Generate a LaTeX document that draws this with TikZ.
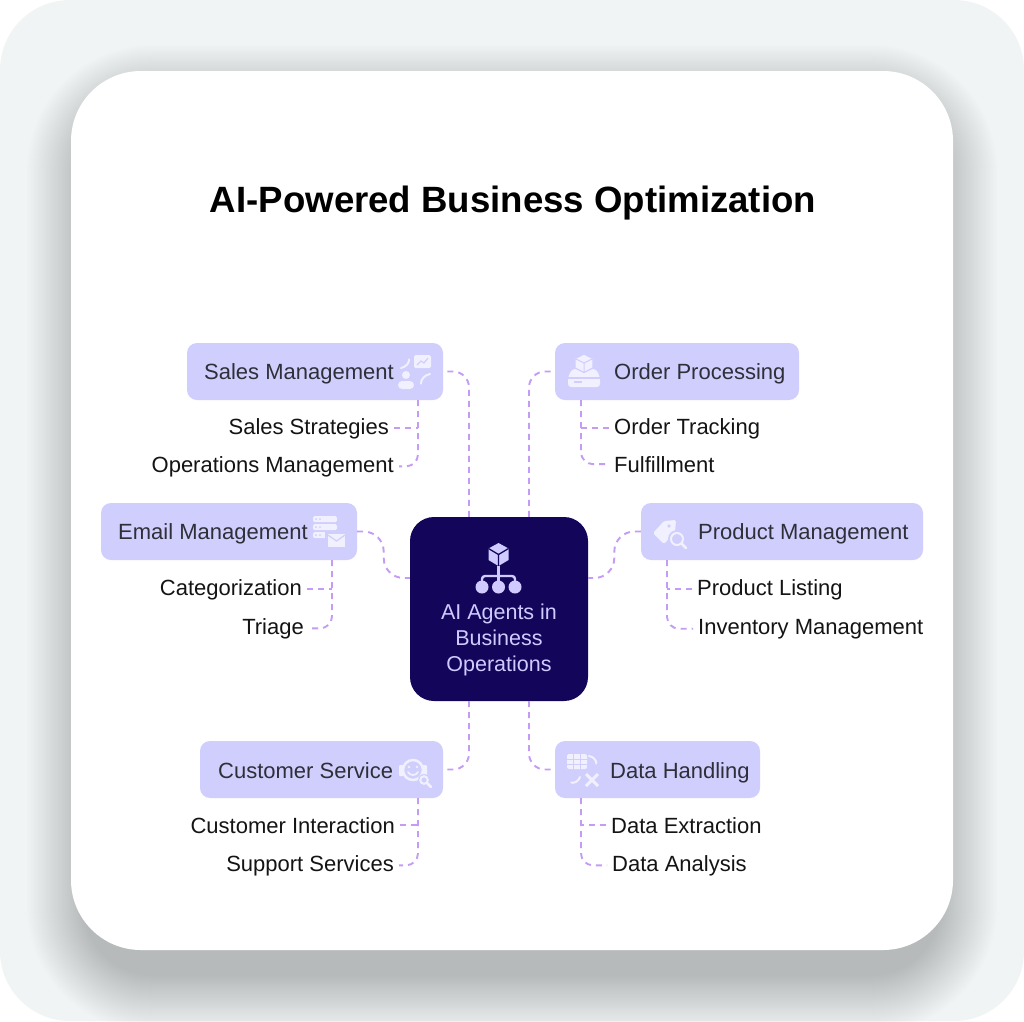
\documentclass[tikz,border=0pt]{standalone}
\usepackage{fontspec}
\setmainfont{Liberation Sans}
\usetikzlibrary{arrows.meta}
\definecolor{bgc}{RGB}{241,244,245}
\definecolor{boxc}{RGB}{208,206,252}
\definecolor{navyc}{RGB}{19,6,90}
\definecolor{hubtxt}{RGB}{207,202,255}
\definecolor{dashc}{RGB}{196,156,245}
\definecolor{labelc}{RGB}{47,47,58}
\definecolor{iconc}{RGB}{241,240,254}
\tikzset{
  catbox/.style={fill=boxc, rounded corners=10pt, minimum height=57pt, inner sep=0pt},
  head/.style={font=\fontsize{22}{26}\selectfont, text=labelc, inner sep=2pt},
  item/.style={font=\fontsize{22}{26}\selectfont, text=black!92, inner ysep=2pt, inner xsep=5pt},
  link/.style={draw=dashc, line width=1.9pt, dash pattern=on 6pt off 5pt, rounded corners=12pt},
  iconline/.style={draw=iconc, line width=2pt, line cap=round},
}
\begin{document}
\begin{tikzpicture}[x=1pt,y=-1pt]
  \useasboundingbox (0,0) rectangle (1024,1021);
  \fill[white] (0,0) rectangle (1024,1021);
  \fill[bgc, rounded corners=70pt] (0,0) rectangle (1024,1021);

  % card shadow
  \foreach \s [evaluate=\s as \r using 70+\s] in {0,2,...,56}
    \fill[black, opacity=0.0065, rounded corners=\r pt] (83-\s,101-\s) rectangle (941+\s,976+\s);
  \fill[white, rounded corners=70pt] (71,71) rectangle (953,950);

  \node[font=\fontsize{36.6}{40}\selectfont\bfseries, anchor=base] (title) at (513,212) {AI-Powered Business Optimization};

  % hub
  \node[fill=navyc, rounded corners=24pt, minimum width=178pt, minimum height=184pt] (hub) at (499,609) {};
  \node[font=\fontsize{21.5}{26}\selectfont, text=hubtxt, align=center] (hubT) at (499,640) {AI Agents in\\Business\\Operations};
  \fill[hubtxt] (498.5,543) -- (508.5,548.5) -- (508.5,560) -- (498.5,566) -- (488.5,560) -- (488.5,548.5) -- cycle;
  \draw[navyc, line width=1.3pt] (498.5,566) -- (498.5,554.5) -- (488.5,548.5) (498.5,554.5) -- (508.5,548.5);
  \draw[hubtxt, line width=2.4pt, rounded corners=3pt] (482,584) -- (482,576) -- (515,576) -- (515,584);
  \draw[hubtxt, line width=2.4pt] (498.5,566) -- (498.5,584);
  \fill[hubtxt] (482,587) circle (6.5pt) (498.5,587) circle (6.5pt) (515,587) circle (6.5pt);

  % category boxes
  \node[catbox, minimum width=256pt] (sales) at (315,371.5) {};
  \node[catbox, minimum width=244pt] (order) at (677,371.5) {};
  \node[catbox, minimum width=256pt] (email) at (229,531.5) {};
  \node[catbox, minimum width=282pt] (product) at (782,531.5) {};
  \node[catbox, minimum width=243pt] (customer) at (321.5,769.5) {};
  \node[catbox, minimum width=205pt] (data) at (657.5,769.5) {};

  \node[head, anchor=base west] (salesT) at (202,379) {Sales Management};
  \node[head, anchor=base west] (orderT) at (612,379) {Order Processing};
  \node[head, anchor=base west] (emailT) at (116,539) {Email Management};
  \node[head, anchor=base west] (productT) at (696,539) {Product Management};
  \node[head, anchor=base west] (customerT) at (216,778) {Customer Service};
  \node[head, anchor=base west] (dataT) at (608,778) {Data Handling};

  % sub items
  \node[item, anchor=base east] (salesA) at (394,434) {Sales Strategies};
  \node[item, anchor=base east] (salesB) at (399,472) {Operations Management};
  \node[item, anchor=base west] (orderA) at (609,434) {Order Tracking};
  \node[item, anchor=base west] (orderB) at (609,472) {Fulfillment};
  \node[item, anchor=base east] (emailA) at (307,595) {Categorization};
  \node[item, anchor=base east] (emailB) at (309,634) {Triage};
  \node[item, anchor=base west] (productA) at (692,595) {Product Listing};
  \node[item, anchor=base west] (productB) at (693,634) {Inventory Management};
  \node[item, anchor=base east] (customerA) at (400,833) {Customer Interaction};
  \node[item, anchor=base east] (customerB) at (399,871) {Support Services};
  \node[item, anchor=base west] (dataA) at (606,833) {Data Extraction};
  \node[item, anchor=base west] (dataB) at (607,871) {Data Analysis};

  % hub links
  \draw[link, rounded corners=16pt] ([xshift=-30pt]hub.north) |- (sales.east);
  \draw[link, rounded corners=16pt] ([xshift=30pt]hub.north) |- (order.west);
  \draw[link, rounded corners=20pt] (email.east) -- ++(26.5,0) |- ([yshift=31pt]hub.west);
  \draw[link, rounded corners=20pt] (product.west) -- ++(-26.5,0) |- ([yshift=31pt]hub.east);
  \draw[link, rounded corners=16pt] ([xshift=-30pt]hub.south) |- (customer.east);
  \draw[link, rounded corners=16pt] ([xshift=30pt]hub.south) |- (data.west);

  % item links
  \coordinate (salesS) at (418,400);
  \coordinate (orderS) at (581,400);
  \coordinate (emailS) at (332,560);
  \coordinate (productS) at (667,560);
  \coordinate (customerS) at (418,798);
  \coordinate (dataS) at (581,798);
  \draw[link] (salesS) |- (salesB.east);
  \draw[link] (salesA.east) -- (salesA.east -| salesS);
  \draw[link] (orderS) |- (orderB.west);
  \draw[link] (orderA.west) -- (orderA.west -| orderS);
  \draw[link] (emailS) |- (emailB.east);
  \draw[link] (emailA.east) -- (emailA.east -| emailS);
  \draw[link] (productS) |- (productB.west);
  \draw[link] (productA.west) -- (productA.west -| productS);
  \draw[link] (customerS) |- (customerB.east);
  \draw[link] (customerA.east) -- (customerA.east -| customerS);
  \draw[link] (dataS) |- (dataB.west);
  \draw[link] (dataA.west) -- (dataA.west -| dataS);

  % sales icon
  \fill[iconc, rounded corners=1.5pt] (414,355) rectangle (431,368);
  \draw[boxc, line width=1.2pt] (417,365) -- (421,361) -- (424,363) -- (428,358);
  \fill[iconc] (406,375) circle (4pt);
  \fill[iconc, rounded corners=4pt] (398,389) rectangle (414,381);
  \draw[iconline, -{Stealth[length=3pt]}] (401,368) to[bend right=40] (409,358);
  \draw[iconline, -{Stealth[length=3pt]}] (430,374) to[bend right=40] (421,385);

  % order icon
  \fill[iconc, rounded corners=3pt] (572,369) -- (596,369) -- (600,377) -- (600,387) -- (568,387) -- (568,377) -- cycle;
  \draw[boxc, line width=1.2pt] (568,378) -- (600,378);
  \fill[boxc] (574,381) rectangle (582,383);
  \filldraw[iconc, draw=boxc, line width=1.2pt] (584,354) -- (593,358.5) -- (593,368) -- (584,372.5) -- (575,368) -- (575,358.5) -- cycle;
  \draw[boxc, line width=1pt] (584,372.5) -- (584,363) -- (575,358.5) (584,363) -- (593,358.5);

  % email icon
  \foreach \yy in {516,524,532}
    \fill[iconc, rounded corners=1.5pt] (313,\yy) rectangle (337,\yy+6);
  \foreach \yy in {519,527,535}
    \fill[boxc] (316,\yy) circle (1pt) (320,\yy) circle (1pt);
  \fill[boxc] (325,531) rectangle (347,550);
  \fill[iconc] (328,534) rectangle (345,547);
  \draw[boxc, line width=1.2pt] (328,535) -- (336.5,541) -- (345,535);

  % product icon
  \fill[iconc, rounded corners=1.5pt] (653,533) -- (664,521) -- (676,520) -- (675,532) -- (664,544) -- cycle;
  \fill[boxc] (669,526) circle (1.8pt);
  \fill[boxc] (677,539) circle (9pt);
  \draw[iconc, line width=2pt] (677,539) circle (6pt);
  \draw[iconline, line width=2.5pt] (681.5,543.5) -- (686,548);

  % customer icon
  \draw[iconc, line width=2.5pt] (413,770) circle (10pt);
  \fill[iconc, rounded corners=1pt] (399,765) rectangle (404,776);
  \fill[iconc, rounded corners=1pt] (422,765) rectangle (427,776);
  \fill[iconc] (409,767) circle (1.3pt) (417,767) circle (1.3pt);
  \draw[iconc, line width=1.8pt, line cap=round] (408,772) .. controls (410,776) and (416,776) .. (418,772);
  \fill[boxc] (424,780) circle (6pt);
  \draw[iconc, line width=2pt] (424,780) circle (3.8pt);
  \draw[iconline, line width=2.5pt] (427,783) -- (431,787);

  % data icon
  \fill[iconc, rounded corners=2pt] (567,754) rectangle (587,769);
  \draw[boxc, line width=1pt] (573.7,754) -- (573.7,769) (580.3,754) -- (580.3,769) (567,759) -- (587,759) (567,764) -- (587,764);
  \draw[iconline, -{Stealth[length=3pt]}] (589,756) to[bend left=45] (596,765);
  \draw[iconline, -{Stealth[length=3pt]}] (580,777) to[bend left=45] (570,782);
  \draw[iconc, line width=3pt] (586,774) -- (598,786) (598,774) -- (586,786);
\end{tikzpicture}
\end{document}
